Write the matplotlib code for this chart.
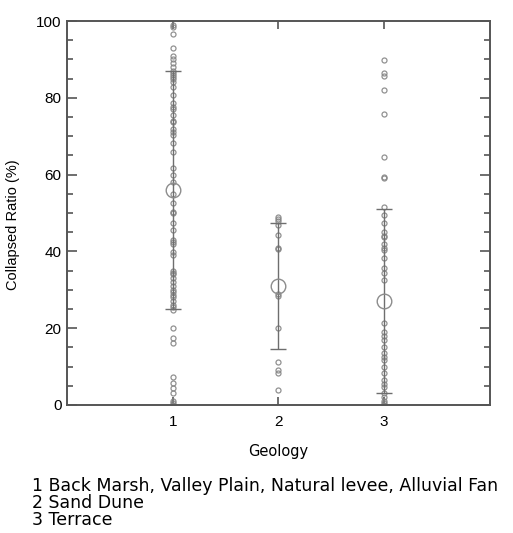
import matplotlib

matplotlib.use("Agg")

import matplotlib.pyplot as plt
import numpy as np
from matplotlib.ticker import MultipleLocator

# collapsed ratio (%) per geology class
geology_1 = [99, 98.5, 96.5, 93, 91, 90, 89, 88, 87, 86.5, 86, 85.5, 85, 84, 82.8,
             80.7, 78.6, 77.5, 77, 75.5, 74, 73.7, 72, 71, 70.3, 68.2, 66, 61.7, 60,
             58, 55, 52.6, 50.3, 50, 47.4, 45.6, 43, 42.5, 42, 39.8, 39, 35, 34.5,
             34, 33, 32, 31, 30, 29.5, 28.6, 28, 27, 26, 25.5, 24.7, 20, 17.4, 16.1,
             7.3, 5.7, 4.4, 3, 1, 0.5, 0]
geology_2 = [49, 48.5, 48, 47, 44.3, 40.9, 40.5, 29, 28.5, 20, 11.2, 9.1, 8.3, 3.9]
geology_3 = [89.8, 86.5, 85.7, 82, 75.8, 64.6, 59.5, 59, 51.6, 49.5, 47.4, 45, 44,
             43.7, 42, 41, 40.4, 38.3, 35.7, 34.4, 32.6, 21.4, 19, 18, 17, 15, 13.5,
             12.5, 11.7, 10, 8.3, 6.5, 5.5, 4.7, 3.1, 2, 1, 0.5, 0]

groups = [1, 2, 3]
means = [56, 31, 27]
sds = [31, 16.5, 24]
legend_lines = [
    "1 Back Marsh, Valley Plain, Natural levee, Alluvial Fan",
    "2 Sand Dune",
    "3 Terrace",
]

plt.rcParams["font.family"] = ["Liberation Sans", "DejaVu Sans"]

fig = plt.figure(figsize=(5.13, 5.33), dpi=100)
ax = fig.add_axes([0.1306, 0.2402, 0.8244, 0.7204])

point_color = "#858585"
for g, values in zip(groups, [geology_1, geology_2, geology_3]):
    ax.plot(np.full(len(values), g), values, "o", ms=3.6, mfc="none",
            mec=point_color, mew=0.9, alpha=0.9, zorder=2)

ax.errorbar(groups, means, yerr=sds, fmt="o", ms=10.5, mfc="none", mec="#8c8c8c",
            mew=1.0, ecolor="#6e6e6e", elinewidth=1.0, capsize=6, capthick=0.9,
            zorder=3)

ax.set_xlim(0, 4)
ax.set_ylim(0, 100)
ax.set_xticks(groups)
ax.yaxis.set_major_locator(MultipleLocator(20))
ax.yaxis.set_minor_locator(MultipleLocator(5))
ax.tick_params(axis="both", which="both", direction="in", top=True, right=True,
               color="#555555", width=1.2)
ax.tick_params(axis="y", which="major", length=7, labelsize=11, pad=4)
ax.tick_params(axis="y", which="minor", length=4)
ax.tick_params(axis="x", which="major", length=6, labelsize=11, pad=7)
for spine in ax.spines.values():
    spine.set_color("#555555")
    spine.set_linewidth(1.4)

ax.set_ylabel("Collapsed Ratio (%)", fontsize=10.5, labelpad=4)
ax.yaxis.set_label_coords(-0.11, 0.47)
ax.set_xlabel("Geology", family="DejaVu Sans", fontsize=10.5, labelpad=11)

# legend block under the axes, one text so the lines can sit tight
fig.text(32 / 513, 1 - 477 / 533, "\n".join(legend_lines), family="DejaVu Sans",
         fontsize=12.5, va="top", ha="left", linespacing=0.92)

fig.savefig("out.png", dpi=100)
